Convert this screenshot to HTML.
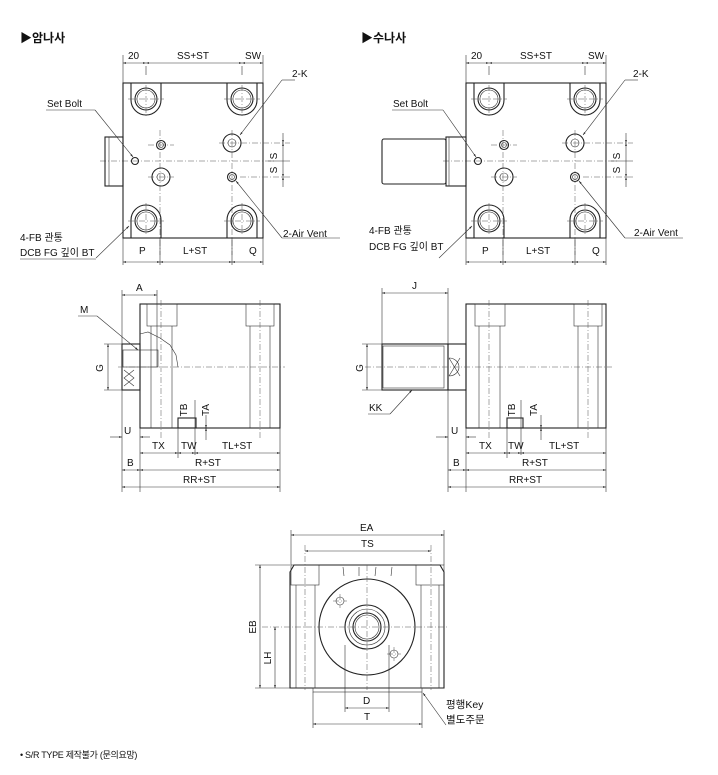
<!DOCTYPE html>
<html><head><meta charset="utf-8"><style>
html,body{margin:0;padding:0;background:#fff}
svg{display:block}
text{font-family:"Liberation Sans","Noto Sans CJK KR",sans-serif;font-size:10px;fill:#111}
.l{stroke:#222;stroke-width:1.1;fill:none}
.t{stroke:#333;stroke-width:0.6;fill:none}
.c{stroke:#555;stroke-width:0.5;fill:none;stroke-dasharray:6 2 1 2}
</style></head><body>
<svg width="718" height="775" viewBox="0 0 718 775" xmlns="http://www.w3.org/2000/svg">
<defs>
<marker id="a" viewBox="0 0 10 10" refX="10" refY="5" markerWidth="7" markerHeight="5" orient="auto-start-reverse"><path d="M0,2 L10,5 L0,8z" fill="#222"/></marker>
<g id="bolt">
<path class="l" d="M-15,-16 L-15,1 A15,15 0 0 0 15,1 L15,-16"/>
<circle class="l" cx="0" cy="0" r="11"/><circle class="t" cx="0" cy="0" r="9"/>
<line class="c" x1="-18" y1="0" x2="18" y2="0"/><line class="c" x1="0" y1="-14" x2="0" y2="18"/>
</g>
<g id="bolt2">
<path class="l" d="M-15,17 L-15,-1 A15,15 0 0 1 15,-1 L15,17"/>
<circle class="l" cx="0" cy="0" r="11"/><circle class="t" cx="0" cy="0" r="9"/>
<line class="c" x1="-18" y1="0" x2="18" y2="0"/><line class="c" x1="0" y1="-18" x2="0" y2="14"/>
</g>
<g id="top">
<rect class="l" x="123" y="83" width="140" height="155"/>
<line class="c" x1="100" y1="161" x2="275" y2="161"/>
<line class="c" x1="160" y1="130" x2="160" y2="255"/>
<line class="c" x1="232" y1="130" x2="232" y2="255"/>
<use href="#bolt" x="146" y="99"/><use href="#bolt" x="242" y="99"/>
<use href="#bolt2" x="146" y="221"/><use href="#bolt2" x="242" y="221"/>
<circle class="l" cx="161" cy="145" r="4.5"/><circle class="t" cx="161" cy="145" r="2.5"/>
<circle class="l" cx="161" cy="177" r="9"/><circle class="t" cx="161" cy="177" r="4"/>
<line class="c" x1="148" y1="177" x2="174" y2="177"/><line class="c" x1="148" y1="145" x2="174" y2="145"/>
<circle class="l" cx="232" cy="143" r="9"/><circle class="t" cx="232" cy="143" r="4"/>
<line class="c" x1="219" y1="143" x2="290" y2="143"/>
<circle class="l" cx="232" cy="177" r="4.5"/><circle class="t" cx="232" cy="177" r="2.5"/>
<line class="c" x1="240" y1="177" x2="290" y2="177"/>
<circle class="l" cx="135" cy="161" r="3.5"/>
<line class="t" x1="123" y1="83" x2="123" y2="55"/><line class="t" x1="146" y1="66" x2="146" y2="75"/>
<line class="t" x1="242" y1="66" x2="242" y2="75"/><line class="t" x1="263" y1="83" x2="263" y2="55"/>
<line class="t" x1="123" y1="63" x2="146" y2="63" marker-start="url(#a)" marker-end="url(#a)"/>
<line class="t" x1="146" y1="63" x2="242" y2="63" marker-start="url(#a)" marker-end="url(#a)"/>
<line class="t" x1="242" y1="63" x2="263" y2="63" marker-start="url(#a)" marker-end="url(#a)"/>
<text x="128" y="59">20</text><text x="177" y="59">SS+ST</text><text x="245" y="59">SW</text>
<line class="t" x1="283" y1="133" x2="283" y2="143" marker-end="url(#a)"/>
<line class="t" x1="283" y1="161" x2="283" y2="143" marker-end="url(#a)"/>
<line class="t" x1="283" y1="161" x2="283" y2="177" marker-end="url(#a)"/>
<line class="t" x1="283" y1="187" x2="283" y2="177" marker-end="url(#a)"/>
<line class="t" x1="268" y1="161" x2="290" y2="161"/>
<text transform="translate(277,156) rotate(-90)" text-anchor="middle">S</text>
<text transform="translate(277,170) rotate(-90)" text-anchor="middle">S</text>
<line class="t" x1="123" y1="238" x2="123" y2="265"/><line class="t" x1="160" y1="238" x2="160" y2="265"/>
<line class="t" x1="232" y1="238" x2="232" y2="265"/><line class="t" x1="263" y1="238" x2="263" y2="265"/>
<line class="t" x1="123" y1="262" x2="160" y2="262" marker-start="url(#a)" marker-end="url(#a)"/>
<line class="t" x1="160" y1="262" x2="232" y2="262" marker-start="url(#a)" marker-end="url(#a)"/>
<line class="t" x1="232" y1="262" x2="263" y2="262" marker-start="url(#a)" marker-end="url(#a)"/>
<text x="139" y="254">P</text><text x="183" y="254">L+ST</text><text x="249" y="254">Q</text>
<polyline class="t" points="282,80 295,80" /><line class="t" x1="282" y1="80" x2="240" y2="135" marker-end="url(#a)"/>
<line class="t" x1="282" y1="238" x2="236" y2="181" marker-end="url(#a)"/>
<line class="t" x1="282" y1="238" x2="340" y2="238"/>
<line class="t" x1="96" y1="258" x2="129" y2="226" marker-end="url(#a)"/>
</g>
</defs>

<text x="20" y="42" style="font-size:12px;font-weight:bold">▶암나사</text>
<text x="361" y="42" style="font-size:12px;font-weight:bold">▶수나사</text>

<use href="#top"/>
<rect class="l" x="105" y="137" width="18" height="49"/>
<line class="t" x1="109" y1="137" x2="109" y2="186"/>
<line class="t" x1="95" y1="110" x2="133" y2="157" marker-end="url(#a)"/>
<line class="t" x1="46" y1="110" x2="95" y2="110"/>
<text x="47" y="107">Set Bolt</text>
<text x="292" y="77">2-K</text>
<text x="20" y="241">4-FB 관통</text>
<text x="20" y="256">DCB FG 깊이 BT</text>
<line class="t" x1="20" y1="259" x2="96" y2="259"/>
<text x="283" y="237">2-Air Vent</text>

<use href="#top" x="343"/>
<rect class="l" x="446" y="137" width="20" height="49"/>
<line class="t" x1="449" y1="137" x2="449" y2="186"/>
<rect class="l" x="382" y="139" width="64" height="45" rx="2"/>
<line class="t" x1="443" y1="110" x2="476" y2="157" marker-end="url(#a)"/>
<line class="t" x1="392" y1="110" x2="443" y2="110"/>
<text x="393" y="107">Set Bolt</text>
<text x="633" y="77">2-K</text>
<text x="369" y="234">4-FB 관통</text>
<text x="369" y="250">DCB FG 깊이 BT</text>
<text x="634" y="236">2-Air Vent</text>

<g>
<rect class="l" x="140" y="304" width="140" height="124"/>
<rect class="t" x="147" y="304" width="30" height="22"/><rect class="t" x="246" y="304" width="28" height="22"/>
<line class="t" x1="151" y1="326" x2="151" y2="428"/><line class="t" x1="172" y1="326" x2="172" y2="428"/>
<line class="t" x1="250" y1="326" x2="250" y2="428"/><line class="t" x1="270" y1="326" x2="270" y2="428"/>
<line class="c" x1="161" y1="300" x2="161" y2="440"/><line class="c" x1="260" y1="300" x2="260" y2="440"/>
<path class="t" d="M140,334 L148,332 L160,338 L170,345 L176,355 L178,367"/>
<rect class="l" x="122" y="344" width="18" height="46"/>
<rect class="t" x="123" y="350" width="35" height="17"/>
<path class="t" d="M124,370 L134,378 L124,386 M134,370 L124,378 L134,386"/>
<line class="c" x1="118" y1="367" x2="285" y2="367"/>
<line class="t" x1="122" y1="290" x2="122" y2="344"/><line class="t" x1="157" y1="290" x2="157" y2="367"/>
<line class="t" x1="122" y1="295" x2="157" y2="295" marker-start="url(#a)" marker-end="url(#a)"/>
<text x="136" y="291">A</text>
<line class="t" x1="104" y1="344" x2="122" y2="344"/><line class="t" x1="104" y1="390" x2="122" y2="390"/>
<line class="t" x1="108" y1="344" x2="108" y2="390" marker-start="url(#a)" marker-end="url(#a)"/>
<text transform="translate(103,368) rotate(-90)" text-anchor="middle">G</text>
<text x="80" y="313">M</text>
<line class="t" x1="78" y1="316" x2="97" y2="316"/><line class="t" x1="97" y1="316" x2="138" y2="350" marker-end="url(#a)"/>
<rect class="l" x="178" y="418" width="18" height="10"/>
<line class="t" x1="195" y1="400" x2="195" y2="455"/>
<line class="t" x1="206" y1="415" x2="206" y2="428" marker-end="url(#a)"/><line class="t" x1="206" y1="440" x2="206" y2="428" marker-end="url(#a)"/>
<text transform="translate(187,410) rotate(-90)" text-anchor="middle">TB</text>
<text transform="translate(209,410) rotate(-90)" text-anchor="middle">TA</text>
<line class="t" x1="122" y1="390" x2="122" y2="492"/><line class="t" x1="140" y1="428" x2="140" y2="492"/><line class="t" x1="280" y1="428" x2="280" y2="492"/>
<line class="t" x1="178" y1="428" x2="178" y2="458"/>
<line class="t" x1="110" y1="437" x2="122" y2="437" marker-end="url(#a)"/><line class="t" x1="150" y1="437" x2="140" y2="437" marker-end="url(#a)"/>
<text x="124" y="434">U</text>
<line class="t" x1="140" y1="453" x2="178" y2="453" marker-start="url(#a)" marker-end="url(#a)"/>
<line class="t" x1="178" y1="453" x2="195" y2="453" marker-start="url(#a)" marker-end="url(#a)"/>
<line class="t" x1="195" y1="453" x2="280" y2="453" marker-start="url(#a)" marker-end="url(#a)"/>
<text x="152" y="449">TX</text><text x="181" y="449">TW</text><text x="222" y="449">TL+ST</text>
<line class="t" x1="122" y1="470" x2="140" y2="470" marker-start="url(#a)" marker-end="url(#a)"/>
<line class="t" x1="140" y1="470" x2="280" y2="470" marker-start="url(#a)" marker-end="url(#a)"/>
<text x="127" y="466">B</text><text x="195" y="466">R+ST</text>
<line class="t" x1="122" y1="487" x2="280" y2="487" marker-start="url(#a)" marker-end="url(#a)"/>
<text x="183" y="483">RR+ST</text>
</g>

<g>
<rect class="l" x="466" y="304" width="140" height="124"/>
<rect class="t" x="475" y="304" width="30" height="22"/><rect class="t" x="574" y="304" width="28" height="22"/>
<line class="t" x1="479" y1="326" x2="479" y2="428"/><line class="t" x1="500" y1="326" x2="500" y2="428"/>
<line class="t" x1="578" y1="326" x2="578" y2="428"/><line class="t" x1="598" y1="326" x2="598" y2="428"/>
<line class="c" x1="489" y1="300" x2="489" y2="440"/><line class="c" x1="588" y1="300" x2="588" y2="440"/>
<rect class="l" x="448" y="344" width="18" height="46"/>
<path class="t" d="M449,358 L460,376 M460,358 L449,376 M449,358 A10,9 0 0 1 449,376"/>
<rect class="l" x="382" y="344" width="66" height="46"/>
<rect class="t" x="383" y="346" width="61" height="42"/>
<line class="c" x1="365" y1="367" x2="612" y2="367"/>
<line class="t" x1="382" y1="288" x2="382" y2="344"/><line class="t" x1="448" y1="288" x2="448" y2="344"/>
<line class="t" x1="382" y1="293" x2="448" y2="293" marker-start="url(#a)" marker-end="url(#a)"/>
<text x="412" y="289">J</text>
<line class="t" x1="362" y1="344" x2="382" y2="344"/><line class="t" x1="362" y1="390" x2="382" y2="390"/>
<line class="t" x1="367" y1="344" x2="367" y2="390" marker-start="url(#a)" marker-end="url(#a)"/>
<text transform="translate(363,368) rotate(-90)" text-anchor="middle">G</text>
<text x="369" y="411">KK</text>
<line class="t" x1="368" y1="414" x2="390" y2="414"/><line class="t" x1="390" y1="414" x2="412" y2="390" marker-end="url(#a)"/>
<rect class="l" x="507" y="418" width="16" height="10"/>
<line class="t" x1="521" y1="400" x2="521" y2="455"/>
<line class="t" x1="541" y1="415" x2="541" y2="428" marker-end="url(#a)"/><line class="t" x1="541" y1="440" x2="541" y2="428" marker-end="url(#a)"/>
<text transform="translate(515,410) rotate(-90)" text-anchor="middle">TB</text>
<text transform="translate(537,410) rotate(-90)" text-anchor="middle">TA</text>
<line class="t" x1="448" y1="390" x2="448" y2="492"/><line class="t" x1="466" y1="428" x2="466" y2="492"/><line class="t" x1="606" y1="428" x2="606" y2="492"/>
<line class="t" x1="507" y1="428" x2="507" y2="458"/>
<line class="t" x1="436" y1="437" x2="448" y2="437" marker-end="url(#a)"/><line class="t" x1="476" y1="437" x2="466" y2="437" marker-end="url(#a)"/>
<text x="451" y="434">U</text>
<line class="t" x1="466" y1="453" x2="507" y2="453" marker-start="url(#a)" marker-end="url(#a)"/>
<line class="t" x1="507" y1="453" x2="521" y2="453" marker-start="url(#a)" marker-end="url(#a)"/>
<line class="t" x1="521" y1="453" x2="606" y2="453" marker-start="url(#a)" marker-end="url(#a)"/>
<text x="479" y="449">TX</text><text x="508" y="449">TW</text><text x="549" y="449">TL+ST</text>
<line class="t" x1="448" y1="470" x2="466" y2="470" marker-start="url(#a)" marker-end="url(#a)"/>
<line class="t" x1="466" y1="470" x2="606" y2="470" marker-start="url(#a)" marker-end="url(#a)"/>
<text x="453" y="466">B</text><text x="522" y="466">R+ST</text>
<line class="t" x1="448" y1="487" x2="606" y2="487" marker-start="url(#a)" marker-end="url(#a)"/>
<text x="509" y="483">RR+ST</text>
</g>

<g>
<path class="l" d="M290,688 L290,572 L294,565 L440,565 L444,572 L444,688 Z"/>
<rect class="t" x="291" y="565" width="28" height="20"/><rect class="t" x="416" y="565" width="28" height="20"/>
<line class="t" x1="296" y1="585" x2="296" y2="688"/><line class="t" x1="315" y1="585" x2="315" y2="688"/>
<line class="t" x1="421" y1="585" x2="421" y2="688"/><line class="t" x1="439" y1="585" x2="439" y2="688"/>
<path class="t" d="M343,567 L344,576 M359,567 L359,576 M376,567 L375,576 M392,567 L391,576"/>
<circle class="l" cx="367" cy="627" r="48"/>
<circle class="l" cx="367" cy="627" r="22"/><circle class="t" cx="367" cy="627" r="18"/>
<circle class="l" cx="367" cy="627" r="14"/><circle class="t" cx="367" cy="627" r="12"/>
<circle class="t" cx="340" cy="601" r="4"/><circle class="t" cx="394" cy="654" r="4"/>
<path class="c" d="M333,601 H347 M340,594 V608 M387,654 H401 M394,647 V661"/>
<line class="c" x1="262" y1="627" x2="448" y2="627"/>
<line class="c" x1="367" y1="565" x2="367" y2="690"/>
<line class="c" x1="305" y1="545" x2="305" y2="690"/><line class="c" x1="431" y1="545" x2="431" y2="690"/>
<rect class="t" x="313" y="688" width="109" height="4"/>
<line class="t" x1="291" y1="530" x2="291" y2="565"/><line class="t" x1="444" y1="530" x2="444" y2="565"/>
<line class="t" x1="291" y1="535" x2="444" y2="535" marker-start="url(#a)" marker-end="url(#a)"/>
<text x="360" y="531">EA</text>
<line class="t" x1="305" y1="551" x2="431" y2="551" marker-start="url(#a)" marker-end="url(#a)"/>
<text x="361" y="547">TS</text>
<line class="t" x1="255" y1="565" x2="290" y2="565"/><line class="t" x1="255" y1="688" x2="290" y2="688"/>
<line class="t" x1="260" y1="565" x2="260" y2="688" marker-start="url(#a)" marker-end="url(#a)"/>
<text transform="translate(256,627) rotate(-90)" text-anchor="middle">EB</text>
<line class="t" x1="275" y1="627" x2="275" y2="688" marker-start="url(#a)" marker-end="url(#a)"/>
<text transform="translate(271,658) rotate(-90)" text-anchor="middle">LH</text>
<line class="t" x1="345" y1="645" x2="345" y2="712"/><line class="t" x1="389" y1="645" x2="389" y2="712"/>
<line class="t" x1="345" y1="708" x2="389" y2="708" marker-start="url(#a)" marker-end="url(#a)"/>
<text x="363" y="704">D</text>
<line class="t" x1="313" y1="692" x2="313" y2="728"/><line class="t" x1="422" y1="692" x2="422" y2="728"/>
<line class="t" x1="313" y1="724" x2="422" y2="724" marker-start="url(#a)" marker-end="url(#a)"/>
<text x="364" y="720">T</text>
<line class="t" x1="446" y1="725" x2="423" y2="693" marker-end="url(#a)"/>
<text x="446" y="708" style="font-size:10.5px">평행Key</text>
<text x="446" y="723" style="font-size:10.5px">별도주문</text>
</g>
<text x="20" y="758" style="font-size:9px;letter-spacing:-0.3px">• S/R TYPE 제작불가 (문의요망)</text>
</svg>
</body></html>
